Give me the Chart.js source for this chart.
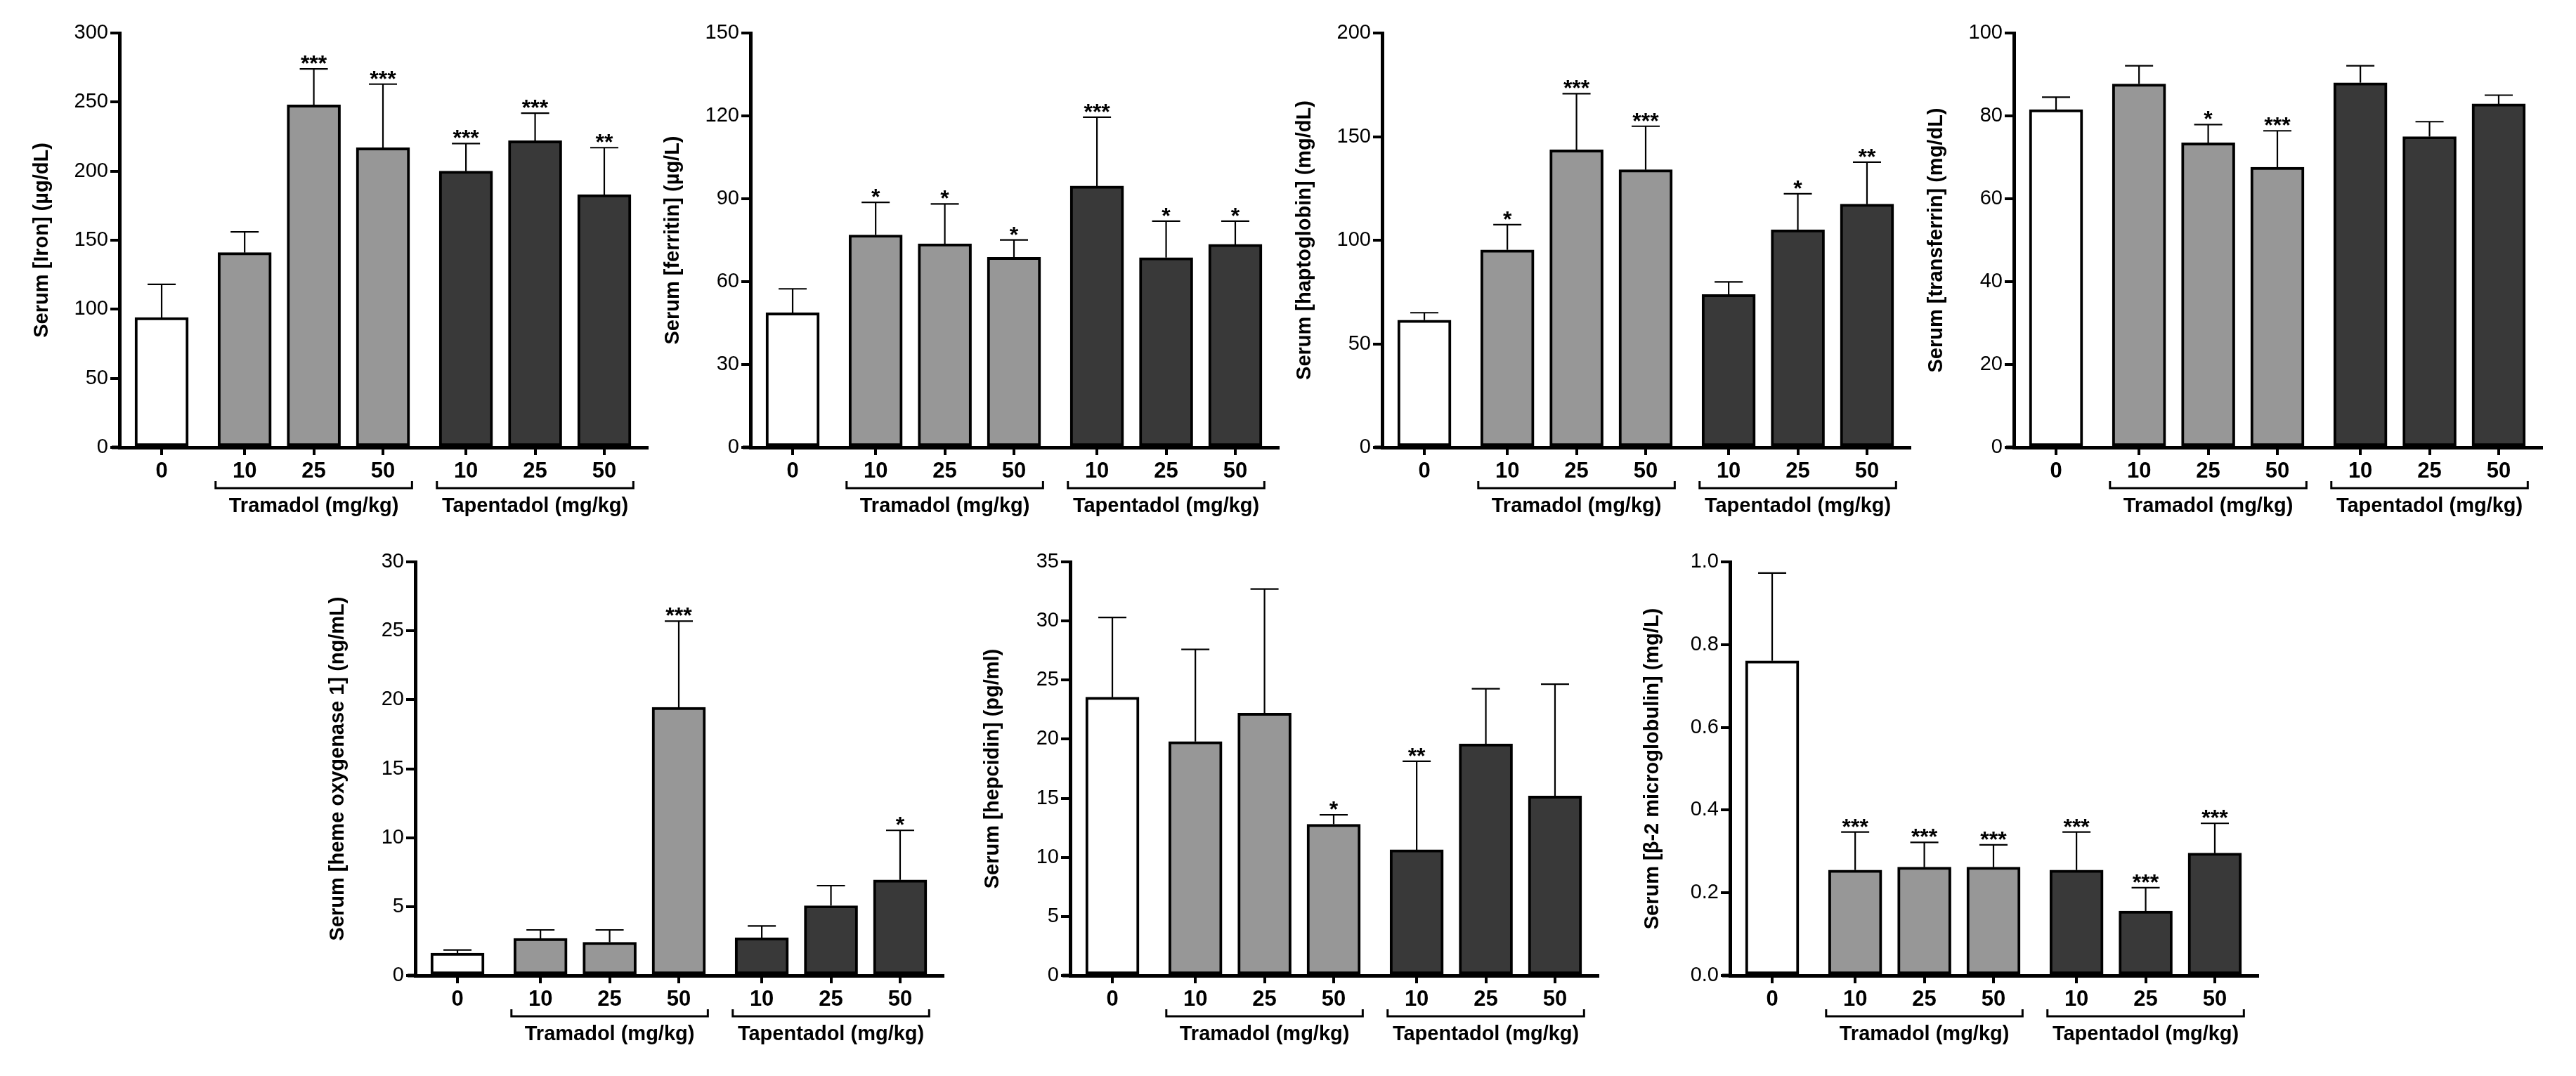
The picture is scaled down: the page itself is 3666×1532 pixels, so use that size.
<!DOCTYPE html>
<html>
<head>
<meta charset="utf-8">
<title>Serum iron markers - tramadol / tapentadol</title>
<script src="https://cdn.jsdelivr.net/npm/chart.js@4.4.1/dist/chart.umd.min.js"></script>
<style>
  html, body { margin: 0; padding: 0; background: #fff; }
  body { width: 3666px; height: 1532px; position: relative; overflow: hidden; }
  canvas { position: absolute; }
</style>
</head>
<body>
<script>
// ---- data ----
const doseLabels = ['0', '10', '25', '50', '10', '25', '50'];
const groupNames = ['Tramadol (mg/kg)', 'Tapentadol (mg/kg)'];

const ironMean = [94, 141, 248, 217, 200, 222, 183];
const ironErr  = [118, 156, 274, 263, 220, 242, 217];
const ironSig  = ['', '', '***', '***', '***', '***', '**'];

const ferritinMean = [48.7, 76.9, 73.7, 68.8, 94.6, 68.7, 73.5];
const ferritinErr  = [57.4, 88.7, 88.1, 75.1, 119.5, 81.9, 81.9];
const ferritinSig  = ['', '*', '*', '*', '***', '*', '*'];

const haptoMean = [61.4, 95.3, 143.6, 134, 73.8, 105.1, 117.4];
const haptoErr  = [65, 107.5, 170.7, 155, 79.9, 122.4, 137.7];
const haptoSig  = ['', '*', '***', '***', '', '*', '**'];

const transMean = [81.5, 87.7, 73.5, 67.6, 88, 75, 82.9];
const transErr  = [84.5, 92.1, 77.9, 76.4, 92.1, 78.6, 85];
const transSig  = ['', '', '*', '***', '', '', ''];

const hoMean = [1.63, 2.69, 2.42, 19.45, 2.74, 5.07, 6.94];
const hoErr  = [1.85, 3.31, 3.31, 25.7, 3.6, 6.52, 10.53];
const hoSig  = ['', '', '', '***', '', '', '*'];

const hepMean = [23.55, 19.8, 22.2, 12.8, 10.64, 19.6, 15.19];
const hepErr  = [30.3, 27.6, 32.7, 13.6, 18.13, 24.27, 24.65];
const hepSig  = ['', '', '', '*', '**', '', ''];

const b2mMean = [0.761, 0.255, 0.262, 0.262, 0.255, 0.156, 0.296];
const b2mErr  = [0.973, 0.347, 0.322, 0.316, 0.347, 0.2125, 0.368];
const b2mSig  = ['', '***', '***', '***', '***', '***', '***'];

// ---- layout ----
const slots = [0, 1.2, 2.2, 3.2, 4.4, 5.4, 6.4];   // control, gap, tramadol x3, gap, tapentadol x3
const groups = [[1, 2, 3], [4, 5, 6]];
const barFill = ['#ffffff', '#979797', '#979797', '#979797', '#393939', '#393939', '#393939'];
const FONT = '"Liberation Sans", Arial, Helvetica, sans-serif';

const rows = [
  { top: 0,   h: 760, plotTop: 47,  zero: 637 },
  { top: 760, h: 770, plotTop: 800, zero: 1389 }
];
const AXIS_W = 150, AXIS_H = 50, PLOT_W = 751, RIGHT = 30;

const panels = [
  { id: 'iron',  title: 'Serum [Iron] (µg/dL)',        mean: ironMean,     err: ironErr,     sig: ironSig,     max: 300, step: 50,  dec: 0, axisX: 170,  row: 0 },
  { id: 'ferr',  title: 'Serum [ferritin] (µg/L)',     mean: ferritinMean, err: ferritinErr, sig: ferritinSig, max: 150, step: 30,  dec: 0, axisX: 1068, row: 0 },
  { id: 'hapt',  title: 'Serum [haptoglobin] (mg/dL)', mean: haptoMean,    err: haptoErr,    sig: haptoSig,    max: 200, step: 50,  dec: 0, axisX: 1967, row: 0 },
  { id: 'trans', title: 'Serum [transferrin] (mg/dL)', mean: transMean,    err: transErr,    sig: transSig,    max: 100, step: 20,  dec: 0, axisX: 2866, row: 0 },
  { id: 'ho1',   title: 'Serum [heme oxygenase 1] (ng/mL)', mean: hoMean,  err: hoErr,       sig: hoSig,       max: 30,  step: 5,   dec: 0, axisX: 591,  row: 1 },
  { id: 'hep',   title: 'Serum [hepcidin] (pg/ml)',    mean: hepMean,      err: hepErr,      sig: hepSig,      max: 35,  step: 5,   dec: 0, axisX: 1523, row: 1 },
  { id: 'b2m',   title: 'Serum [β-2 microglobulin] (mg/L)', mean: b2mMean, err: b2mErr,      sig: b2mSig,      max: 1.0, step: 0.2, dec: 1, axisX: 2462, row: 1 }
];

Chart.defaults.font.family = FONT;
Chart.defaults.color = '#000';

// error bars, stars, group brackets
function markings(p) {
  return {
    id: 'markings_' + p.id,
    afterDatasetsDraw(chart) {
      const { ctx, scales: { x, y } } = chart;
      ctx.save();
      ctx.strokeStyle = '#000';
      ctx.fillStyle = '#000';
      ctx.lineWidth = 2.2;
      ctx.font = 'bold 32px ' + FONT;
      ctx.textAlign = 'center';
      ctx.textBaseline = 'alphabetic';
      p.err.forEach((e, i) => {
        const cx = x.getPixelForValue(slots[i]);
        const yBar = y.getPixelForValue(p.mean[i]);
        const yErr = y.getPixelForValue(e);
        ctx.beginPath();
        ctx.moveTo(cx, yBar);
        ctx.lineTo(cx, yErr);
        ctx.moveTo(cx - 20, yErr);
        ctx.lineTo(cx + 20, yErr);
        ctx.stroke();
        if (p.sig[i]) ctx.fillText(p.sig[i], cx, yErr + 3);
      });
      ctx.restore();
    },
    afterDraw(chart) {
      const { ctx, chartArea, scales: { x } } = chart;
      const base = chartArea.bottom;
      ctx.save();
      ctx.fillStyle = '#000';
      ctx.strokeStyle = '#000';
      // x axis runs a little past the y axis
      ctx.fillRect(chartArea.left - 11, base - 2.5, 11, 5);
      ctx.lineWidth = 3;
      ctx.font = 'bold 29px ' + FONT;
      ctx.textAlign = 'center';
      ctx.textBaseline = 'middle';
      groups.forEach((g, k) => {
        const xl = x.getPixelForValue(slots[g[0]] - 0.42);
        const xr = x.getPixelForValue(slots[g[g.length - 1]] + 0.42);
        const yb = base + 58;
        ctx.beginPath();
        ctx.moveTo(xl, yb - 10);
        ctx.lineTo(xl, yb);
        ctx.lineTo(xr, yb);
        ctx.lineTo(xr, yb - 10);
        ctx.stroke();
        ctx.fillText(groupNames[k], (xl + xr) / 2, base + 84);
      });
      ctx.restore();
    }
  };
}

panels.forEach(p => {
  const r = rows[p.row];
  const cv = document.createElement('canvas');
  const w = AXIS_W + PLOT_W + RIGHT;
  cv.width = w;
  cv.height = r.h;
  cv.style.left = (p.axisX - AXIS_W) + 'px';
  cv.style.top = r.top + 'px';
  cv.style.width = w + 'px';
  cv.style.height = r.h + 'px';
  document.body.appendChild(cv);

  new Chart(cv.getContext('2d'), {
    type: 'bar',
    data: {
      datasets: [{
        data: p.mean.map((v, i) => ({ x: slots[i], y: v })),
        backgroundColor: barFill,
        borderColor: '#000',
        borderWidth: 4,
        borderSkipped: false,
        barThickness: 76
      }]
    },
    options: {
      responsive: false,
      animation: false,
      layout: {
        padding: {
          left: 0,
          right: RIGHT,
          top: r.plotTop - r.top,
          bottom: r.h - (r.zero - r.top) - AXIS_H
        }
      },
      plugins: { legend: { display: false }, tooltip: { enabled: false } },
      scales: {
        x: {
          type: 'linear',
          offset: false,
          min: -0.61,
          max: 7.02,
          afterBuildTicks: s => { s.ticks = slots.map(v => ({ value: v })); },
          afterFit: s => { s.height = AXIS_H; },
          ticks: {
            autoSkip: false, maxRotation: 0, padding: 5,
            font: { size: 31, weight: 'bold' },
            callback: (v, i) => doseLabels[i]
          },
          grid: { offset: false, drawOnChartArea: false, tickLength: 11, color: '#000', lineWidth: 4 },
          border: { color: '#000', width: 5 }
        },
        y: {
          min: 0,
          max: p.max,
          afterFit: s => { s.width = AXIS_W; },
          ticks: {
            stepSize: p.step, padding: 3,
            font: { size: 29 },
            callback: v => v.toFixed(p.dec)
          },
          grid: { drawOnChartArea: false, tickLength: 13, color: '#000', lineWidth: 4 },
          border: { color: '#000', width: 5 },
          title: {
            display: true,
            text: p.title,
            font: { size: 29, weight: 'bold' },
            padding: { top: 23, bottom: 0 }
          }
        }
      }
    },
    plugins: [markings(p)]
  });
});
</script>
</body>
</html>
